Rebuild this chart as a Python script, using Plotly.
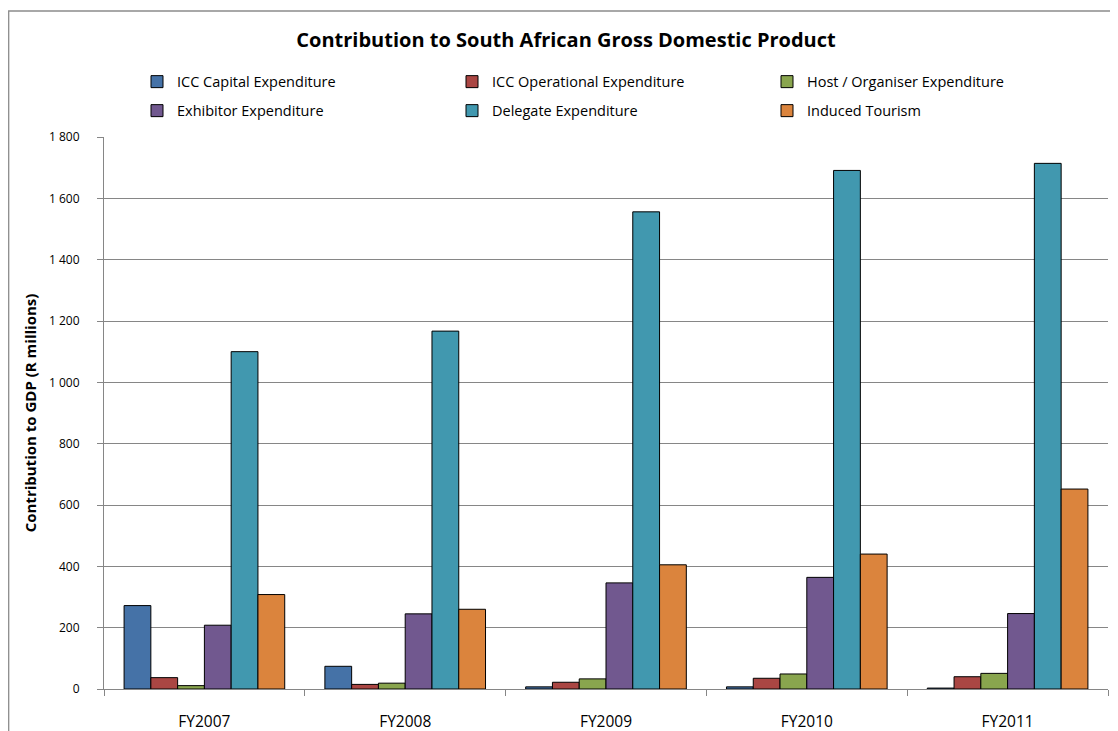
import plotly.graph_objects as go

categories = ["FY2007", "FY2008", "FY2009", "FY2010", "FY2011"]
series_names = [
    "ICC Capital Expenditure",
    "ICC Operational Expenditure",
    "Host / Organiser Expenditure",
    "Exhibitor Expenditure",
    "Delegate Expenditure",
    "Induced Tourism",
]
icc_capital = [272, 74, 7, 7, 3]
icc_operational = [37, 15, 22, 35, 40]
host_organiser = [11, 19, 33, 49, 51]
exhibitor = [208, 245, 346, 364, 246]
delegate = [1100, 1167, 1556, 1691, 1714]
induced_tourism = [308, 260, 405, 440, 652]
y_ticks = [0, 200, 400, 600, 800, 1000, 1200, 1400, 1600, 1800]

values = [icc_capital, icc_operational, host_organiser, exhibitor, delegate, induced_tourism]
colors = ["#4572A7", "#AA4643", "#89A54E", "#71588F", "#4198AF", "#DB843D"]
legends = ["legend", "legend", "legend", "legend2", "legend2", "legend2"]

FONT = "Open Sans"

fig = go.Figure()
for name, vals, col, lg in zip(series_names, values, colors, legends):
    fig.add_trace(go.Bar(
        x=categories, y=vals, name=name, legend=lg,
        marker=dict(color=col, line=dict(color="#000000", width=1)),
    ))

# the page body has an 8px offset; figure coordinates = screenshot coordinates - 8
OFF = 8
W, H = 1118 - OFF, 731 - OFF
L, R, T, B = 104 - OFF, 10, 137 - OFF, 42
pw = W - L - R
ph = H - T - B

def px_x(X):
    return (X - OFF - L) / pw

def px_y(Y):
    return (H - B - (Y - OFF)) / ph

legend_common = dict(
    orientation="h", xanchor="left", yanchor="middle",
    xref="container", yref="container",
    entrywidth=270, entrywidthmode="pixels",
    font=dict(family=FONT, size=14.5, color="#000000"),
    bgcolor="rgba(0,0,0,0)", itemclick=False, itemdoubleclick=False,
    traceorder="normal",
)

fig.update_layout(
    width=W, height=H,
    margin=dict(l=L, r=R, t=T, b=B, autoexpand=False),
    paper_bgcolor="#FFFFFF", plot_bgcolor="#FFFFFF",
    separators=". ",
    barmode="group", bargap=0.2, bargroupgap=0,
    font=dict(family=FONT, color="#000000"),
    title=dict(
        text="<b>Contribution to South African Gross Domestic Product</b>",
        x=(566 - OFF) / W, xanchor="center", xref="container",
        y=1 - (40 - OFF) / H, yanchor="middle", yref="container",
        font=dict(family=FONT, size=20, color="#000000"),
    ),
    legend=dict(x=(137 - OFF) / W, y=1 - (81.7 - OFF) / H, **legend_common),
    legend2=dict(x=(137 - OFF) / W, y=1 - (110.7 - OFF) / H, **legend_common),
    xaxis=dict(
        type="category", automargin=False,
        showline=True, linecolor="#868686", linewidth=1,
        ticks="outside", tickson="boundaries", ticklen=6, tickcolor="#868686",
        showgrid=False,
        tickfont=dict(family=FONT, size=15.5, color="#000000"),
        ticklabelstandoff=18,
    ),
    yaxis=dict(
        range=[0, 1800], tickvals=y_ticks, tickformat=",d",
        automargin=False,
        showline=True, linecolor="#868686", linewidth=1,
        ticks="outside", ticklen=6, tickcolor="#868686",
        showgrid=True, gridcolor="#868686", gridwidth=1,
        zeroline=False,
        tickfont=dict(family=FONT, size=12, color="#000000"),
        ticklabelstandoff=15,
        title=dict(
            text="<b>Contribution to GDP (R millions)</b>",
            font=dict(family=FONT, size=15, color="#000000"),
            standoff=8,
        ),
    ),
    shapes=[dict(
        type="rect", xref="paper", yref="paper",
        x0=px_x(8.7), x1=px_x(1118 + 40), y0=px_y(731 + 40), y1=px_y(11),
        line=dict(color="#8C8C8C", width=1.3), fillcolor="rgba(0,0,0,0)",
        layer="below",
    )],
)

fig.write_html("out.html")
